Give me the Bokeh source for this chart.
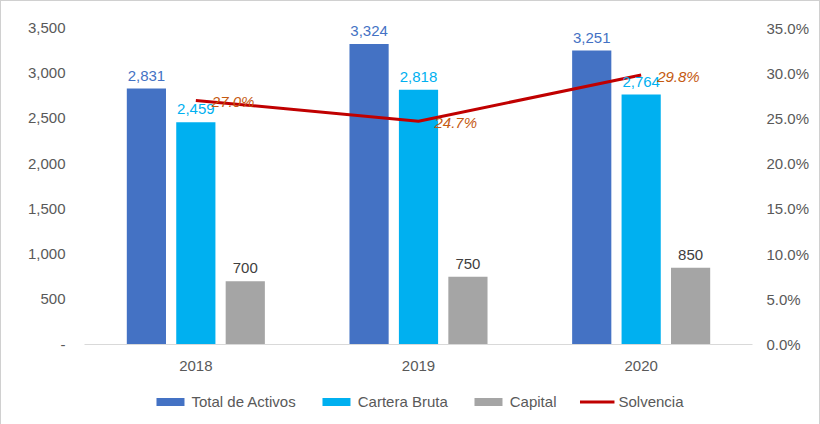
from bokeh.plotting import figure
from bokeh.layouts import column
from bokeh.models import (ColumnDataSource, Range1d, LinearAxis, FixedTicker,
                          NumeralTickFormatter, Legend, LegendItem, LabelSet)
from bokeh.transform import dodge
from bokeh.core.properties import value
from bokeh.embed import file_html
from bokeh.resources import INLINE

years = ["2018", "2019", "2020"]
total_activos = [2831, 3324, 3251]
cartera_bruta = [2459, 2818, 2764]
capital = [700, 750, 850]
solvencia = [0.270, 0.247, 0.298]
left_ticks = [0, 500, 1000, 1500, 2000, 2500, 3000, 3500]
right_ticks = [0.0, 0.05, 0.10, 0.15, 0.20, 0.25, 0.30, 0.35]
series_names = ["Total de Activos", "Cartera Bruta", "Capital", "Solvencia"]

FONT = "Liberation Sans"
FS = "15px"
TXT = "#595959"
C_ACT, C_CAR, C_CAP, C_SOL = "#4472C4", "#00B0F0", "#A5A5A5", "#C00000"

src = ColumnDataSource(dict(
    year=years, act=total_activos, car=cartera_bruta, cap=capital, sol=solvencia,
    act_l=[f"{v:,}" for v in total_activos],
    car_l=[f"{v:,}" for v in cartera_bruta],
    cap_l=[f"{v:,}" for v in capital],
    sol_l=[f"{v*100:.1f}%" for v in solvencia],
))

YMAX = 3650
p = figure(x_range=years, y_range=Range1d(0, YMAX), width=818, height=376,
           output_backend="svg", toolbar_location=None,
           min_border_left=83, min_border_right=67, min_border_top=13,
           min_border_bottom=33, outline_line_color=None)
p.x_range.range_padding = 0
p.xgrid.grid_line_color = None
p.ygrid.grid_line_color = None
p.extra_y_ranges = {"pct": Range1d(0, 0.35 * YMAX / 3500)}

W = 0.176
D = 0.222
p.vbar(x=dodge("year", -D, range=p.x_range), top="act", width=W, source=src,
       fill_color=C_ACT, line_color=None)
p.vbar(x=dodge("year", 0, range=p.x_range), top="car", width=W, source=src,
       fill_color=C_CAR, line_color=None)
p.vbar(x=dodge("year", D, range=p.x_range), top="cap", width=W, source=src,
       fill_color=C_CAP, line_color=None)
p.line(x="year", y="sol", source=src, y_range_name="pct", line_color=C_SOL, line_width=3)

for col, lab, off, color in [("act", "act_l", -D, C_ACT),
                             ("car", "car_l", 0, C_CAR),
                             ("cap", "cap_l", D, "#404040")]:
    p.add_layout(LabelSet(x=dodge("year", off, range=p.x_range), y=col, text=lab,
                          source=src, text_align="center", text_baseline="bottom",
                          y_offset=8, text_font=value(FONT), text_font_size=FS,
                          text_color=color))
p.add_layout(LabelSet(x="year", y="sol", text="sol_l", source=src, y_range_name="pct",
                      text_align="left", text_baseline="middle", x_offset=16, y_offset=-1,
                      text_font=value(FONT), text_font_size=FS,
                      text_font_style="italic", text_color="#C55A11"))

def style_axis(ax, standoff):
    ax.major_tick_line_color = None
    ax.minor_tick_line_color = None
    ax.major_tick_out = 0
    ax.major_tick_in = 0
    ax.minor_tick_out = 0
    ax.major_label_standoff = standoff
    ax.major_label_text_font = FONT
    ax.major_label_text_font_size = FS
    ax.major_label_text_color = TXT

xa = p.xaxis[0]
style_axis(xa, 16)
xa.axis_line_color = "#D9D9D9"

ya = p.yaxis[0]
ya.ticker = FixedTicker(ticks=left_ticks)
ya.formatter = NumeralTickFormatter(format="0,0")
ya.major_label_overrides = {0: "-"}
ya.axis_line_color = None
style_axis(ya, 19)

ra = LinearAxis(y_range_name="pct", ticker=FixedTicker(ticks=right_ticks),
                formatter=NumeralTickFormatter(format="0.0%"))
ra.axis_line_color = None
style_axis(ra, 14)
p.add_layout(ra, "right")

# legend strip: same series drawn far outside its view so only the legend shows
lg = figure(x_range=years, y_range=Range1d(10000, 10001), width=818, height=48,
            output_backend="svg", toolbar_location=None,
            x_axis_location=None, y_axis_location=None,
            min_border_left=83, min_border_right=67, min_border_top=0,
            min_border_bottom=0, outline_line_color=None)
lg.grid.visible = False
l1 = lg.vbar(x="year", top="act", width=W, source=src, fill_color=C_ACT, line_color=None)
l2 = lg.vbar(x="year", top="car", width=W, source=src, fill_color=C_CAR, line_color=None)
l3 = lg.vbar(x="year", top="cap", width=W, source=src, fill_color=C_CAP, line_color=None)
l4 = lg.line(x="year", y="sol", source=src, line_color=C_SOL, line_width=3)

legend = Legend(items=[LegendItem(label=n, renderers=[r])
                       for n, r in zip(series_names, [l1, l2, l3, l4])],
                orientation="horizontal", location="center",
                glyph_width=35, glyph_height=10, label_standoff=4, spacing=23,
                padding=0, margin=0, border_line_color=None, background_fill_alpha=0,
                label_text_font=FONT, label_text_font_size=FS, label_text_color=TXT,
                label_height=16)
lg.add_layout(legend, "center")

layout = column(p, lg, spacing=0, styles={"border": "1px solid #D0D0D0"})

open("out.html", "w").write(file_html(layout, INLINE))
